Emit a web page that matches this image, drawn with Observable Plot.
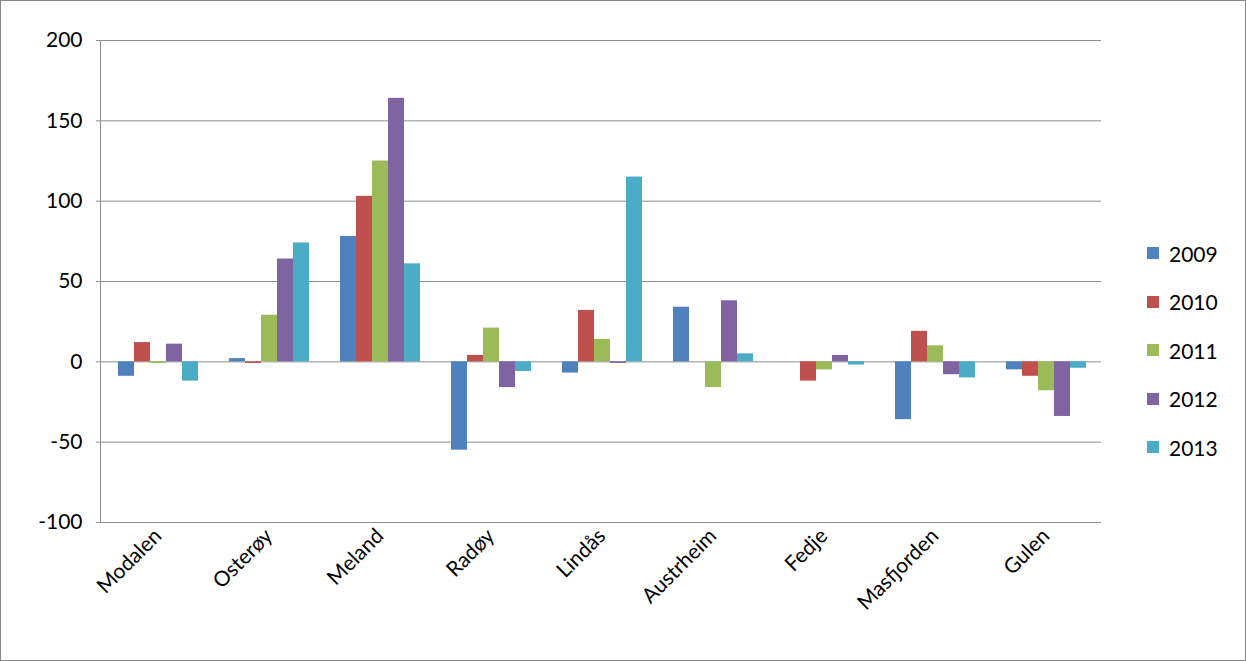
<!DOCTYPE html>
<html>
<head>
<meta charset="utf-8">
<script src="https://cdn.jsdelivr.net/npm/d3@7"></script>
<script src="https://cdn.jsdelivr.net/npm/@observablehq/plot@0.6"></script>
<style>
  body { margin: 0; background: #fff; }
  #wrap { position: relative; width: 1244px; height: 659px; border: 1px solid #888; font-family: Lato, sans-serif; }
  #legend { position: absolute; left: 1146px; top: 228px; font-size: 21px; }
  #legend div { display: flex; align-items: center; height: 48.5px; }
  #legend span.sw { width: 12px; height: 12px; margin-right: 10px; display: inline-block; }
</style>
</head>
<body>
<div id="wrap"><div id="chart"></div><div id="legend"></div></div>
<script>
const kommuner = ["Modalen", "Osterøy", "Meland", "Radøy", "Lindås", "Austrheim", "Fedje", "Masfjorden", "Gulen"]
const years = ["2009", "2010", "2011", "2012", "2013"]
const colors = ["#4F81BD", "#C0504D", "#9BBB59", "#8064A2", "#4BACC6"]
const v2009 = [-9, 2, 78, -55, -7, 34, 0, -36, -5]
const v2010 = [12, -1, 103, 4, 32, 0, -12, 19, -9]
const v2011 = [-1, 29, 125, 21, 14, -16, -5, 10, -18]
const v2012 = [11, 64, 164, -16, -1, 38, 4, -8, -34]
const v2013 = [-12, 74, 61, -6, 115, 5, -2, -10, -4]
const yTicks = [-100, -50, 0, 50, 100, 150, 200]

const series = [v2009, v2010, v2011, v2012, v2013]
const data = []
kommuner.forEach((k, i) => years.forEach((y, j) => data.push({kommune: k, year: y, value: series[j][i]})))

const chart = Plot.plot({
  width: 1120, height: 659,
  marginLeft: 99, marginRight: 18, marginTop: 39, marginBottom: 138,
  style: {fontFamily: "Lato, sans-serif", fontSize: "21px", color: "#000"},
  fx: {domain: kommuner, padding: 0, label: null},
  x: {domain: years, axis: null, paddingInner: 0, paddingOuter: 0.77},
  y: {domain: [-100, 200], label: null},
  color: {domain: years, range: colors},
  marks: [
    Plot.ruleY(yTicks, {stroke: "#8c8c8c", strokeWidth: 1}),
    Plot.barY(data, {fx: "kommune", x: "year", y: "value", fill: "year"}),
    Plot.axisY({ticks: yTicks, tickFormat: d => String(d), tickSize: 6, tickPadding: 14, fontSize: 21, stroke: "#8c8c8c"}),
    Plot.axisFx({anchor: "bottom", tickRotate: -45, tickSize: 0, tickPadding: 10, fontSize: 21, label: null})
  ]
})
document.getElementById("chart").append(chart)
// left axis line
d3.select(chart).append("line")
  .attr("x1", 99.5).attr("x2", 99.5).attr("y1", 39).attr("y2", 521)
  .attr("stroke", "#8c8c8c")

const legend = d3.select("#legend")
years.forEach((y, i) => {
  const row = legend.append("div")
  row.append("span").attr("class", "sw").style("background", colors[i])
  row.append("span").text(y)
})
</script>
</body>
</html>
